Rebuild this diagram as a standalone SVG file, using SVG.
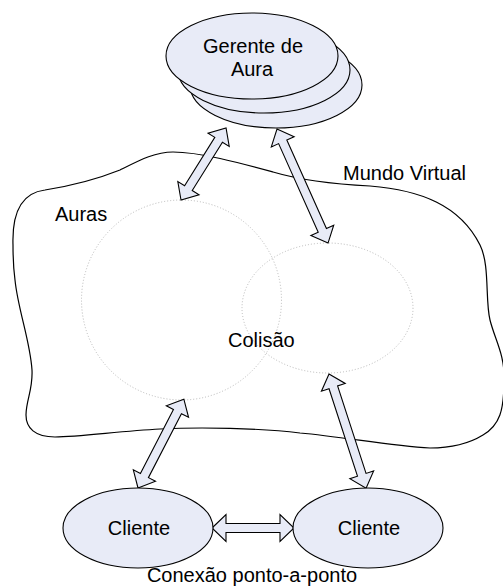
<svg xmlns="http://www.w3.org/2000/svg" width="503" height="587" viewBox="0 0 503 587">
<style>
.t{font-family:"Liberation Sans",Arial,sans-serif;font-size:20px;fill:#000}
.n{fill:#e8ebf7;stroke:#000;stroke-width:1.1}
.aura{fill:none;stroke:#b8b8b8;stroke-width:1;stroke-dasharray:1 2}
.arr{fill:#e8ebf7;stroke:#000;stroke-width:1.1;stroke-linejoin:miter}
</style>
<rect width="503" height="587" fill="#fff"/>
<g id="mundo-virtual">
<path d="M13,245 C12,215 20,193 45,190 C70,186 95,180 120,170 C140,160 155,152 173,152 C200,152 240,163 273,172 C300,180 330,184 370,186 C420,190 460,205 480,245 C490,265 485,300 490,320 C495,340 505,355 504,380 C504,410 500,425 483,435 C470,443 455,448 430,448 C390,446 345,437 300,433 C260,428 200,427 160,429 C120,431 80,437 55,437 C35,437 26,428 26,415 C26,400 33,390 32,370 C30,340 18,310 15,280 C13,265 13,255 13,245 Z" fill="none" stroke="#000" stroke-width="1.2"/>
<text class="t" x="343" y="180">Mundo Virtual</text>
</g>
<g id="auras">
<circle class="aura" cx="181.5" cy="300" r="100"/>
<ellipse class="aura" cx="327.5" cy="308" rx="85.5" ry="65"/>
<text class="t" x="55" y="221">Auras</text>
<text class="t" x="228" y="347">Colisão</text>
</g>
<g id="gerente-de-aura">
<ellipse class="n" cx="276" cy="85" rx="86" ry="43"/>
<ellipse class="n" cx="264" cy="70" rx="86" ry="43"/>
<ellipse class="n" cx="252" cy="56" rx="86" ry="43"/>
<text class="t" x="253" y="53" text-anchor="middle">Gerente de</text>
<text class="t" x="252" y="76" text-anchor="middle">Aura</text>
</g>
<g id="connectors">
<polygon class="arr" transform="translate(181,200) rotate(-58)" points="0,0 14,-12.5 14,-4.5 71,-4.5 71,-12.5 85,0 71,12.5 71,4.5 14,4.5 14,12.5"/>
<polygon class="arr" transform="translate(277,129) rotate(65.9)" points="0,0 14,-12.5 14,-4.5 111,-4.5 111,-12.5 125,0 111,12.5 111,4.5 14,4.5 14,12.5"/>
<polygon class="arr" transform="translate(138,488) rotate(-62.7)" points="0,0 14,-12.5 14,-4.5 86,-4.5 86,-12.5 100,0 86,12.5 86,4.5 14,4.5 14,12.5"/>
<polygon class="arr" transform="translate(329,374) rotate(72)" points="0,0 14,-12.5 14,-4.5 106,-4.5 106,-12.5 120,0 106,12.5 106,4.5 14,4.5 14,12.5"/>
<polygon class="arr" transform="translate(212,528)" points="0,0 14,-13.5 14,-4.5 68,-4.5 68,-13.5 82,0 68,13.5 68,4.5 14,4.5 14,13.5"/>
</g>
<g id="cliente-1">
<ellipse class="n" cx="138" cy="528" rx="75" ry="40"/>
<text class="t" x="139" y="535" text-anchor="middle">Cliente</text>
</g>
<g id="cliente-2">
<ellipse class="n" cx="368" cy="528" rx="75" ry="40"/>
<text class="t" x="369" y="535" text-anchor="middle">Cliente</text>
</g>
<text class="t" x="252" y="582" text-anchor="middle">Conexão ponto-a-ponto</text>
</svg>
